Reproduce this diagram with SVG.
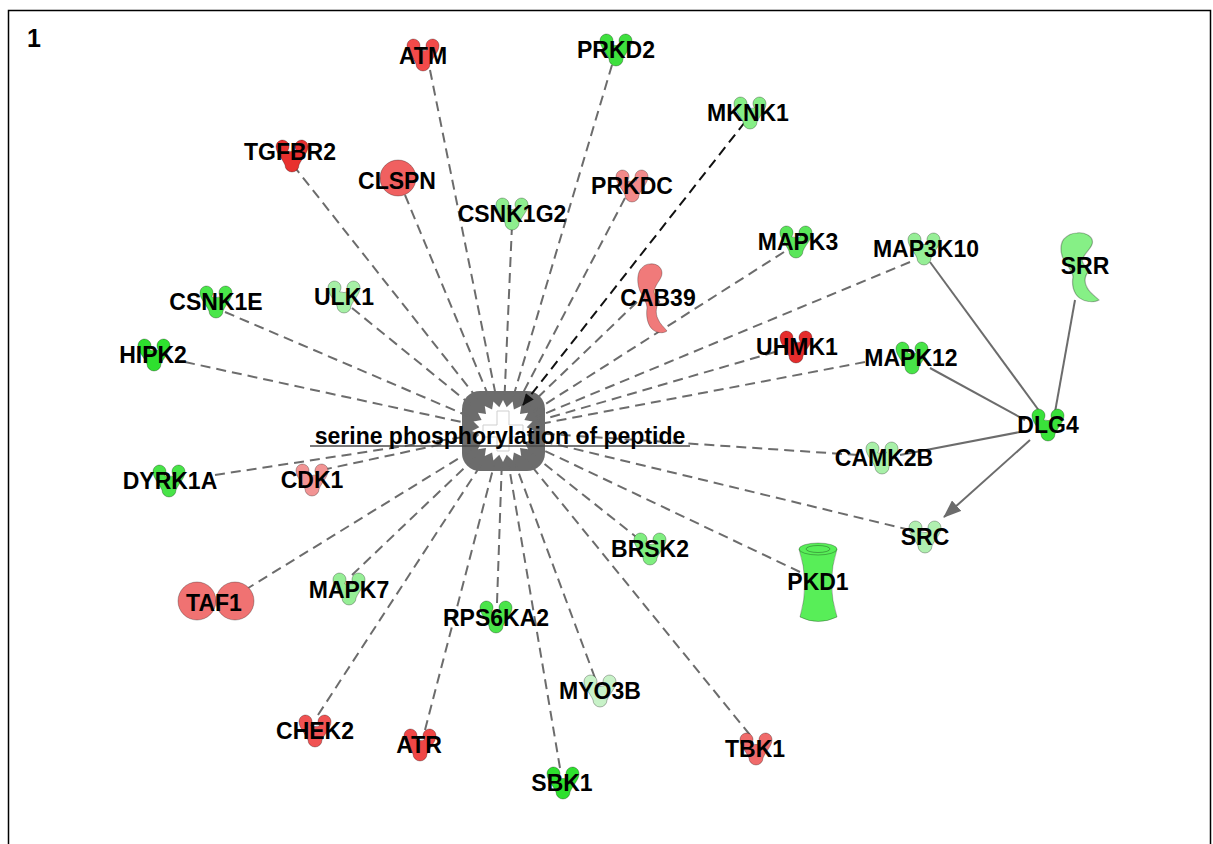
<svg xmlns="http://www.w3.org/2000/svg" width="1213" height="844" viewBox="0 0 1213 844">
<style>
.lbl{font-family:"Liberation Sans",Arial,sans-serif;font-weight:bold;font-size:23px;fill:#000;text-anchor:middle}
.dash{stroke:#6c6c6c;stroke-width:2;stroke-dasharray:10 6;fill:none}
.solid{stroke:#6c6c6c;stroke-width:2;fill:none}
.shp{stroke:rgba(0,0,0,0.28);stroke-width:1}
</style>
<defs>
<path id="kin" d="M -16,-9.5 A 6.5,6.5 0 1 1 -4.5,-5.3 Q 0,-3.5 4.5,-5.3 A 6.5,6.5 0 1 1 16,-9.5 C 16,-3 10,2 7,9 A 7,7 0 1 1 -7,9 C -10,2 -16,-3 -16,-9.5 Z"/>
<path id="hook" d="M 13,1 C 19,0 25,4 25,10 C 25,16 19,20 17,28 C 17,33 22,36 23,39 C 19,42 18,50 21,56 C 23,61 27,64 30,68 C 26,71 19,70 15,66 C 10,61 9,52 10,45 C 10,40 6,34 3,28 C 0,21 0,12 3,7 C 6,3 9,1 13,1 Z"/>
<marker id="arrB" viewBox="0 0 12 10" refX="11" refY="5" markerWidth="13" markerHeight="10" markerUnits="userSpaceOnUse" orient="auto"><path d="M0,0 L12,5 L0,10 z" fill="#111"/></marker>
<marker id="arrG" viewBox="0 0 18 14" refX="17" refY="7" markerWidth="18" markerHeight="14" markerUnits="userSpaceOnUse" orient="auto"><path d="M0,0 L18,7 L0,14 z" fill="#6c6c6c"/></marker>
</defs>
<rect x="0" y="0" width="1213" height="844" fill="#fff"/>
<rect x="8.5" y="10.5" width="1202" height="840" fill="none" stroke="#000" stroke-width="1.5"/>
<text x="34" y="47" style="font-family:'Liberation Sans',Arial,sans-serif;font-weight:bold;font-size:25px" text-anchor="middle">1</text>

<g id="n-center">
<rect x="462" y="391" width="83" height="80" rx="18" fill="#6c6c6c"/>
<g transform="translate(503,431)">
<polygon fill="#fff" points="31,0 23.7,3.7 29.5,9.6 21.4,10.9 25.1,18.2 17,17 18.2,25.1 10.9,21.4 9.6,29.5 3.7,23.7 0,31 -3.7,23.7 -9.6,29.5 -10.9,21.4 -18.2,25.1 -17,17 -25.1,18.2 -21.4,10.9 -29.5,9.6 -23.7,3.7 -31,0 -23.7,-3.7 -29.5,-9.6 -21.4,-10.9 -25.1,-18.2 -17,-17 -18.2,-25.1 -10.9,-21.4 -9.6,-29.5 -3.7,-23.7 0,-31 3.7,-23.7 9.6,-29.5 10.9,-21.4 18.2,-25.1 17,-17 25.1,-18.2 21.4,-10.9 29.5,-9.6 23.7,-3.7"/>
<path d="M -6,-20 L 6,-20 L 6,-6 L 20,-6 L 20,6 L 6,6 L 6,20 L -6,20 L -6,6 L -20,6 L -20,-6 L -6,-6 Z" fill="none" stroke="#cfcfcf" stroke-width="1"/>
</g>
</g>

<g id="connectors">
<line class="dash" x1="430" y1="70" x2="495.9" y2="395.7"/>
<line class="dash" x1="612" y1="65" x2="513.3" y2="396.5"/>
<line x1="745" y1="122" x2="523" y2="405" stroke="#111" stroke-width="2" stroke-dasharray="10 6" marker-end="url(#arrB)"/>
<line class="dash" x1="293" y1="165" x2="480.7" y2="402.7"/>
<line class="dash" x1="405" y1="195" x2="489.2" y2="397.7"/>
<line class="dash" x1="512" y1="225" x2="504.6" y2="395"/>
<line class="dash" x1="625" y1="198" x2="519.7" y2="399.1"/>
<line class="dash" x1="637" y1="302" x2="528.9" y2="406"/>
<line class="dash" x1="784" y1="252" x2="533.4" y2="411.7"/>
<line class="dash" x1="910" y1="262" x2="536.2" y2="417.2"/>
<line class="dash" x1="225" y1="312" x2="469.9" y2="416.8"/>
<line class="dash" x1="352" y1="308" x2="475.1" y2="408.3"/>
<line class="dash" x1="185" y1="362" x2="467.8" y2="423.4"/>
<line class="dash" x1="775" y1="352" x2="537.6" y2="421"/>
<line class="dash" x1="865" y1="362" x2="538.4" y2="424.3"/>
<line class="dash" x1="858" y1="455" x2="538.9" y2="433.4"/>
<line class="dash" x1="215" y1="475" x2="467.4" y2="436.4"/>
<line class="dash" x1="322" y1="470" x2="467.8" y2="438.6"/>
<line class="dash" x1="910" y1="530" x2="538" y2="440"/>
<line class="dash" x1="640" y1="540" x2="531.2" y2="453.4"/>
<line class="dash" x1="800" y1="572" x2="535.5" y2="446.4"/>
<line class="dash" x1="245" y1="590" x2="472.4" y2="449.9"/>
<line class="dash" x1="352" y1="575" x2="477" y2="455.8"/>
<line class="dash" x1="497" y1="603" x2="501.7" y2="467"/>
<line class="dash" x1="595" y1="678" x2="515.6" y2="464.7"/>
<line class="dash" x1="318" y1="715" x2="483.3" y2="461.2"/>
<line class="dash" x1="425" y1="730" x2="493.9" y2="465.8"/>
<line class="dash" x1="750" y1="735" x2="525.7" y2="458.9"/>
<line class="dash" x1="560" y1="768" x2="509" y2="466.5"/>
<line class="solid" x1="930" y1="262" x2="1040" y2="412"/>
<line class="solid" x1="1075" y1="300" x2="1055" y2="412"/>
<line class="solid" x1="930" y1="368" x2="1025" y2="420"/>
<line class="solid" x1="1020" y1="432" x2="900" y2="455"/>
<line class="solid" x1="1030" y1="440" x2="944" y2="517" marker-end="url(#arrG)"/>
</g>

<g id="n-center-label">
<line x1="310" y1="446" x2="690" y2="446" stroke="#4a4a4a" stroke-width="1.5"/>
<text class="lbl" x="500" y="444">serine phosphorylation of peptide</text>
</g>

<g id="n-ATM"><use href="#kin" class="shp" fill="#f24a4a" x="423" y="55"/><text class="lbl" x="423" y="64">ATM</text></g>
<g id="n-PRKD2"><use href="#kin" class="shp" fill="#3ee03e" x="616" y="50"/><text class="lbl" x="616" y="58">PRKD2</text></g>
<g id="n-MKNK1"><use href="#kin" class="shp" fill="#86ee86" x="750" y="113"/><text class="lbl" x="748" y="121">MKNK1</text></g>
<g id="n-TGFBR2"><use href="#kin" class="shp" fill="#e8302e" x="292" y="156"/><text class="lbl" x="290" y="160">TGFBR2</text></g>
<g id="n-CLSPN"><circle cx="398" cy="178" r="18" class="shp" fill="#f06060"/><text class="lbl" x="397" y="189">CLSPN</text></g>
<g id="n-PRKDC"><use href="#kin" class="shp" fill="#f28a8a" x="632" y="186"/><text class="lbl" x="632" y="194">PRKDC</text></g>
<g id="n-CSNK1G2"><use href="#kin" class="shp" fill="#8eee8e" x="512" y="214"/><text class="lbl" x="512" y="222">CSNK1G2</text></g>
<g id="n-MAPK3"><use href="#kin" class="shp" fill="#5ae65a" x="796" y="242"/><text class="lbl" x="798" y="250">MAPK3</text></g>
<g id="n-MAP3K10"><use href="#kin" class="shp" fill="#96ee96" x="924" y="249"/><text class="lbl" x="926" y="257">MAP3K10</text></g>
<g id="n-SRR"><use href="#hook" class="shp" fill="#86f086" transform="translate(1060,232) scale(1.3,1)"/><text class="lbl" x="1085" y="274">SRR</text></g>
<g id="n-CSNK1E"><use href="#kin" class="shp" fill="#4ae64a" x="216" y="302"/><text class="lbl" x="216" y="310">CSNK1E</text></g>
<g id="n-ULK1"><use href="#kin" class="shp" fill="#a6f0a6" x="344" y="297"/><text class="lbl" x="344" y="305">ULK1</text></g>
<g id="n-CAB39"><use href="#hook" class="shp" fill="#f07a7a" transform="translate(637,263)"/><text class="lbl" x="658" y="306">CAB39</text></g>
<g id="n-HIPK2"><use href="#kin" class="shp" fill="#2ee02e" x="154" y="355"/><text class="lbl" x="153" y="363">HIPK2</text></g>
<g id="n-UHMK1"><use href="#kin" class="shp" fill="#e42c2c" x="796" y="347"/><text class="lbl" x="797" y="355">UHMK1</text></g>
<g id="n-MAPK12"><use href="#kin" class="shp" fill="#48e448" x="912" y="358"/><text class="lbl" x="911" y="366">MAPK12</text></g>
<g id="n-DLG4"><use href="#kin" class="shp" fill="#3ae23a" x="1048" y="425"/><text class="lbl" x="1048" y="433">DLG4</text></g>
<g id="n-CAMK2B"><use href="#kin" class="shp" fill="#a8f0a8" x="882" y="458"/><text class="lbl" x="884" y="466">CAMK2B</text></g>
<g id="n-DYRK1A"><use href="#kin" class="shp" fill="#48e448" x="169" y="481"/><text class="lbl" x="170" y="489">DYRK1A</text></g>
<g id="n-CDK1"><use href="#kin" class="shp" fill="#f29494" x="312" y="480"/><text class="lbl" x="312" y="488">CDK1</text></g>
<g id="n-SRC"><use href="#kin" class="shp" fill="#b0f0b0" x="925" y="537"/><text class="lbl" x="925" y="545">SRC</text></g>
<g id="n-BRSK2"><use href="#kin" class="shp" fill="#80ee80" x="650" y="549"/><text class="lbl" x="650" y="557">BRSK2</text></g>
<g id="n-PKD1"><path class="shp" fill="#58ee58" d="M 799,549 Q 810,583 800,617 Q 818,626 837,617 Q 826,583 837,549 Z"/><ellipse cx="818" cy="549" rx="19" ry="6" class="shp" fill="#58ee58"/><ellipse cx="818" cy="549" rx="12" ry="3.5" fill="none" stroke="rgba(0,0,0,0.3)" stroke-width="1"/><text class="lbl" x="818" y="590">PKD1</text></g>
<g id="n-TAF1"><circle cx="197" cy="601" r="19" class="shp" fill="#f07272"/><circle cx="235" cy="601" r="19" class="shp" fill="#f07272"/><text class="lbl" x="214" y="611">TAF1</text></g>
<g id="n-MAPK7"><use href="#kin" class="shp" fill="#96ee96" x="349" y="589"/><text class="lbl" x="349" y="598">MAPK7</text></g>
<g id="n-RPS6KA2"><use href="#kin" class="shp" fill="#4ae44a" x="496" y="617"/><text class="lbl" x="496" y="626">RPS6KA2</text></g>
<g id="n-MYO3B"><use href="#kin" class="shp" fill="#c8f2c8" x="600" y="691"/><text class="lbl" x="600" y="699">MYO3B</text></g>
<g id="n-CHEK2"><use href="#kin" class="shp" fill="#f05252" x="315" y="731"/><text class="lbl" x="315" y="739">CHEK2</text></g>
<g id="n-ATR"><use href="#kin" class="shp" fill="#f04646" x="420" y="745"/><text class="lbl" x="419" y="753">ATR</text></g>
<g id="n-TBK1"><use href="#kin" class="shp" fill="#f06a6a" x="756" y="749"/><text class="lbl" x="755" y="757">TBK1</text></g>
<g id="n-SBK1"><use href="#kin" class="shp" fill="#2ee02e" x="563" y="783"/><text class="lbl" x="562" y="791">SBK1</text></g>
</svg>
